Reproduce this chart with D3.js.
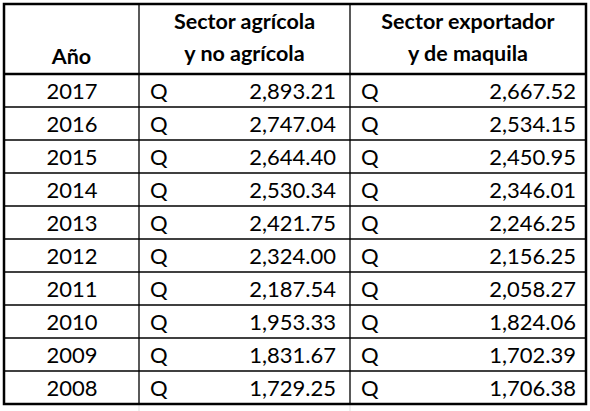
<!DOCTYPE html>
<html><head><meta charset="utf-8">
<script src="https://cdn.jsdelivr.net/npm/d3@7"></script>
<style>body{margin:0;background:#fff}text{font-family:Lato,"Open Sans",sans-serif}</style>
</head><body><svg id="c" width="590" height="411"></svg>
<script>
const years = ["2017","2016","2015","2014","2013","2012","2011","2010","2009","2008"];
const agricola = [2893.21,2747.04,2644.40,2530.34,2421.75,2324.00,2187.54,1953.33,1831.67,1729.25];
const exportador = [2667.52,2534.15,2450.95,2346.01,2246.25,2156.25,2058.27,1824.06,1702.39,1706.38];
const headers = [["Año"],["Sector agrícola","y no agrícola"],["Sector exportador","y de maquila"]];

const svg = d3.select("#c");
const L=4,R=586,T=4,HB=74,B=404;
const colX=[L,139,350,R];
const y = d3.scaleBand().domain(years).range([HB,B]);
const fmt = d3.format(",.2f");

svg.append("line").attr("x1",139).attr("x2",139).attr("y1",B).attr("y2",411).attr("stroke","#ddd");
svg.append("line").attr("x1",350).attr("x2",350).attr("y1",B).attr("y2",411).attr("stroke","#ddd");

svg.selectAll(".rl").data(years.slice(1)).join("line")
  .attr("x1",L).attr("x2",R).attr("y1",d=>y(d)).attr("y2",d=>y(d))
  .attr("stroke","#000").attr("stroke-width",1.3);
svg.append("line").attr("x1",L).attr("x2",R).attr("y1",HB).attr("y2",HB).attr("stroke","#000").attr("stroke-width",2.5);
[139,350].forEach(x=>svg.append("line").attr("x1",x).attr("x2",x).attr("y1",T).attr("y2",B).attr("stroke","#000").attr("stroke-width",1.3));
svg.append("rect").attr("x",L).attr("y",T).attr("width",R-L).attr("height",B-T).attr("fill","none").attr("stroke","#000").attr("stroke-width",2.5);

svg.append("text").attr("x",(colX[0]+colX[1])/2).attr("y",64).attr("text-anchor","middle")
  .attr("font-size",21.5).attr("font-weight","bold").text(headers[0][0]);
[1,2].forEach(i=>{
  headers[i].forEach((t,j)=>svg.append("text").attr("x",(colX[i]+colX[i+1])/2).attr("y",29+j*32)
    .attr("text-anchor","middle").attr("font-size",21.5).attr("font-weight","bold").text(t));
});

const fs=22, dy=y.bandwidth()/2+8;
svg.selectAll(".yr").data(years).join("text").attr("x",72).attr("y",d=>y(d)+dy)
  .attr("text-anchor","middle").attr("font-size",fs).text(d=>d);
[[agricola,150,336],[exportador,361,576]].forEach(([vals,qx,vx])=>{
  svg.selectAll(null).data(vals).join("text").attr("x",qx).attr("y",(d,i)=>y(years[i])+dy)
    .attr("font-size",fs).text("Q");
  svg.selectAll(null).data(vals).join("text").attr("x",vx).attr("y",(d,i)=>y(years[i])+dy)
    .attr("text-anchor","end").attr("font-size",fs).text(d=>fmt(d));
});
</script></body></html>
